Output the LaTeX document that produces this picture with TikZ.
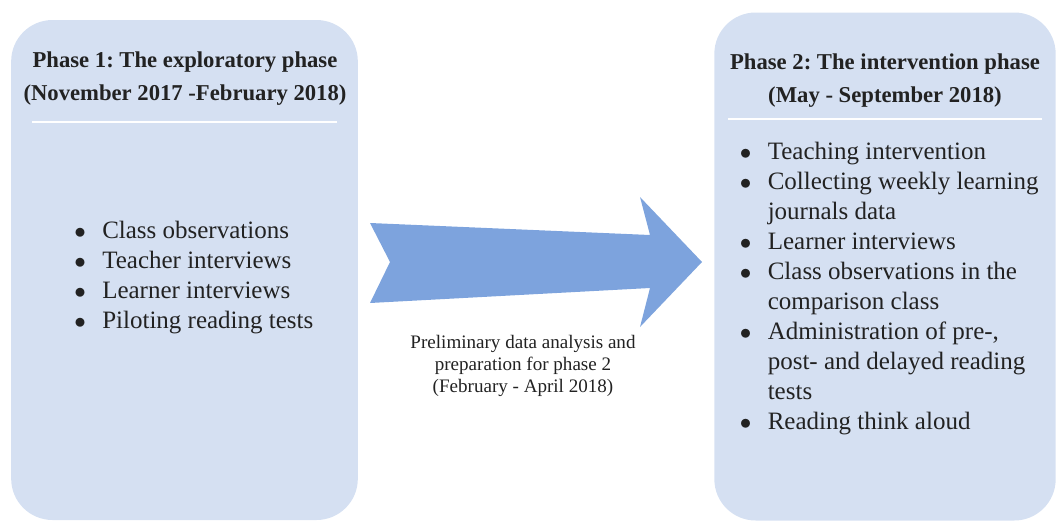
\documentclass[tikz,border=0pt]{standalone}
\usepackage{fontspec}
\setmainfont{Liberation Serif}
\usetikzlibrary{positioning}
\frenchspacing

\definecolor{boxblue}{HTML}{D5E0F2}
\definecolor{arrowblue}{HTML}{7DA3DD}
\definecolor{inkgray}{HTML}{222222}

% bullet and hanging indent for the lists
\newcommand{\itm}{\makebox[21pt][l]{$\bullet$}}
\newcommand{\cnt}{\hspace*{21pt}}

\begin{document}
\begin{tikzpicture}[
  x=0.75pt,
  y=-0.75pt,
  phase/.style={fill=boxblue, rounded corners=31pt, inner sep=0pt},
  head/.style={font=\fontsize{17}{24.75}\selectfont\bfseries, text=inkgray, align=center, inner sep=0pt},
  items/.style={font=\fontsize{18.75}{22.45}\selectfont, text=inkgray, align=left, inner sep=0pt},
  note/.style={font=\fontsize{14.3}{16.5}\selectfont, text=inkgray, align=center, inner sep=0pt},
  rule/.style={draw=white, line width=1.5pt}
]
\useasboundingbox (0,0) rectangle (1056,521);

% Boxes of the two phases
\node[phase, minimum width=260pt, minimum height=375pt] (phase1) at (184.5,270) {};
\node[phase, minimum width=256pt, minimum height=381pt] (phase2) at (885,266.5) {};

% Titles (anchor = baseline of the last line)
\node[head, anchor=base] (title1) at (185,100) {Phase 1: The exploratory phase\\(November 2017 -February 2018)};
\node[head, anchor=base] (title2) at (885,102) {Phase 2: The intervention phase\\(May - September 2018)};

% White lines under the titles
\coordinate (rule1a) at (32,122);
\coordinate (rule1b) at (337,122);
\coordinate (rule2a) at (728,119);
\coordinate (rule2b) at (1042,119);
\draw[rule] (rule1a) -- (rule1b);
\draw[rule] (rule2a) -- (rule2b);

% Lists
\node[items, anchor=base west] (list1) at (74,328) {\itm Class observations\\\itm Teacher interviews\\\itm Learner interviews\\\itm Piloting reading tests};
\node[items, anchor=base west] (list2) at (739.5,429) {\itm Teaching intervention\\\itm Collecting weekly learning\\\cnt journals data\\\itm Learner interviews\\\itm Class observations in the\\\cnt comparison class\\\itm Administration of pre-,\\\cnt post- and delayed reading\\\cnt tests\\\itm Reading think aloud};

% Block arrow between the phases
\coordinate (tailtop) at (370,223);
\coordinate (shafttop) at (650,235);
\coordinate (headtop) at (640,197);
\coordinate (tip) at (702,262);
\coordinate (headbot) at (640,327);
\coordinate (shaftbot) at (650,288);
\coordinate (tailbot) at (370,303);
\coordinate (notch) at (390,262);
\fill[arrowblue] (tailtop) -- (shafttop) -- (headtop) -- (tip) -- (headbot) -- (shaftbot) -- (tailbot) -- (notch) -- cycle;

% Label under the arrow
\node[note, anchor=base] (prep) at (523,392) {Preliminary data analysis and\\preparation for phase 2\\(February - April 2018)};

\end{tikzpicture}
\end{document}
